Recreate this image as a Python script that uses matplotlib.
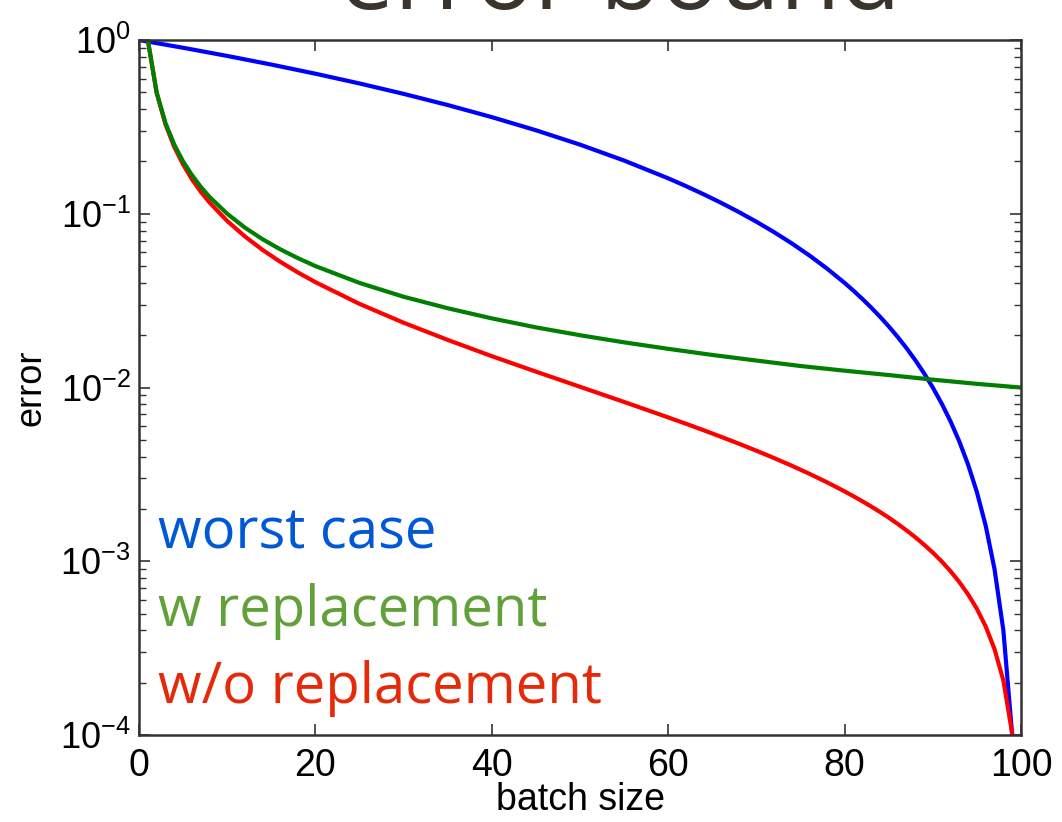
import matplotlib
matplotlib.use("Agg")
import matplotlib.pyplot as plt
from matplotlib.ticker import LogLocator, NullFormatter

plt.rcParams['font.family'] = ['Liberation Sans', 'DejaVu Sans']
plt.rcParams['mathtext.fontset'] = 'custom'
plt.rcParams['mathtext.rm'] = 'Liberation Sans'
plt.rcParams['mathtext.default'] = 'regular'

# worst case bound
batch_worst = [0, 5, 10, 15, 20, 25, 30, 35, 40, 45, 50, 55, 60, 62, 64, 66, 68,
               70, 72, 74, 76, 78, 80, 81, 82, 83, 84, 85, 86, 87, 88, 89, 90,
               91, 92, 93, 94, 95, 96, 97, 98, 99]
err_worst = [1.0, 0.9025, 0.81, 0.7225, 0.64, 0.5625, 0.49, 0.4225, 0.36, 0.3025,
             0.25, 0.2025, 0.16, 0.1444, 0.1296, 0.1156, 0.1024,
             0.09, 0.0784, 0.0676, 0.0576, 0.0484, 0.04, 0.0361, 0.0324, 0.0289,
             0.0256, 0.0225, 0.0196, 0.0169, 0.0144, 0.0121, 0.01,
             0.0081, 0.0064, 0.0049, 0.0036, 0.0025, 0.0016, 0.0009, 0.0004, 0.0001]

# sampling with replacement
batch_w = [1, 2, 3, 4, 5, 6, 7, 8, 10, 12, 14, 16, 18, 20, 25, 30, 35, 40, 45, 50,
           55, 60, 65, 70, 75, 80, 85, 90, 95, 100]
err_w = [1.0, 0.5, 0.333, 0.25, 0.2, 0.167, 0.143, 0.125, 0.1, 0.0833, 0.0714,
         0.0625, 0.0556, 0.05, 0.04, 0.0333, 0.0286, 0.025, 0.0222, 0.02,
         0.0182, 0.0167, 0.0154, 0.0143, 0.0133, 0.0125, 0.0118, 0.0111,
         0.0105, 0.01]

# sampling without replacement
batch_wo = [1, 2, 3, 4, 5, 6, 7, 8, 10, 12, 14, 16, 18, 20, 25, 30, 35, 40, 45, 50,
            55, 60, 62, 64, 66, 68, 70, 72, 74, 76, 78, 80, 81, 82, 83, 84, 85,
            86, 87, 88, 89, 90, 91, 92, 93, 94, 95, 96, 97, 98, 99]
err_wo = [1.0, 0.495, 0.327, 0.242, 0.192, 0.158, 0.134, 0.116, 0.0909, 0.0741,
          0.062, 0.053, 0.046, 0.0404, 0.0303, 0.0236, 0.0188, 0.01515, 0.01235,
          0.0101, 0.00826, 0.00673, 0.006191, 0.005682, 0.005203, 0.004753,
          0.004329, 0.003928, 0.003549, 0.00319, 0.002849, 0.002525, 0.002369,
          0.002217, 0.002069, 0.001924, 0.001783, 0.001644, 0.001509, 0.001377,
          0.001248, 0.001122, 0.000999, 0.000878, 0.00076, 0.000645, 0.000532,
          0.000421, 0.000312, 0.000206, 0.000102]

fig = plt.figure(figsize=(10.62, 8.22), dpi=100)
ax = fig.add_axes([0.1309, 0.1058, 0.8305, 0.8455])

ax.plot(batch_worst, err_worst, color='#0000ff', lw=3)
ax.plot(batch_wo, err_wo, color='#ff0000', lw=3)
ax.plot(batch_w, err_w, color='#007f00', lw=3)

ax.set_yscale('log')
ax.set_xlim(0, 100)
ax.set_ylim(1e-4, 1)
ax.set_xticks([0, 20, 40, 60, 80, 100])
ax.yaxis.set_major_locator(LogLocator(base=10, numticks=10))
ax.yaxis.set_minor_locator(LogLocator(base=10, subs=range(2, 10), numticks=10))
ax.yaxis.set_minor_formatter(NullFormatter())

ax.tick_params(which='both', direction='in', top=True, right=True,
               color='#333333')
ax.tick_params(axis='x', labelsize=27, pad=9)
ax.tick_params(axis='y', labelsize=26, pad=6)
ax.tick_params(which='major', length=8, width=1.2)
ax.tick_params(which='minor', length=5, width=1)
for s in ax.spines.values():
    s.set_color('#333333')
    s.set_linewidth(1.8)

ax.set_xlabel('batch size', fontsize=27, labelpad=-1)
ax.set_ylabel('error', fontsize=26, labelpad=8)

label_font = ['Open Sans', 'DejaVu Sans']
ax.text(0.022, 0.268, 'worst case', transform=ax.transAxes, fontsize=40.5,
        color='#0058d6', family=label_font)
ax.text(0.022, 0.157, 'w replacement', transform=ax.transAxes, fontsize=40.5,
        color='#62a03a', family=label_font)
ax.text(0.022, 0.046, 'w/o replacement', transform=ax.transAxes, fontsize=40.5,
        color='#e52a0a', family=label_font)

fig.text(0.584, 1 - 9 / 822, 'error bound', ha='center', va='baseline',
         fontsize=71, color='#3a342d', family=label_font)

fig.savefig('out.png', dpi=100)
